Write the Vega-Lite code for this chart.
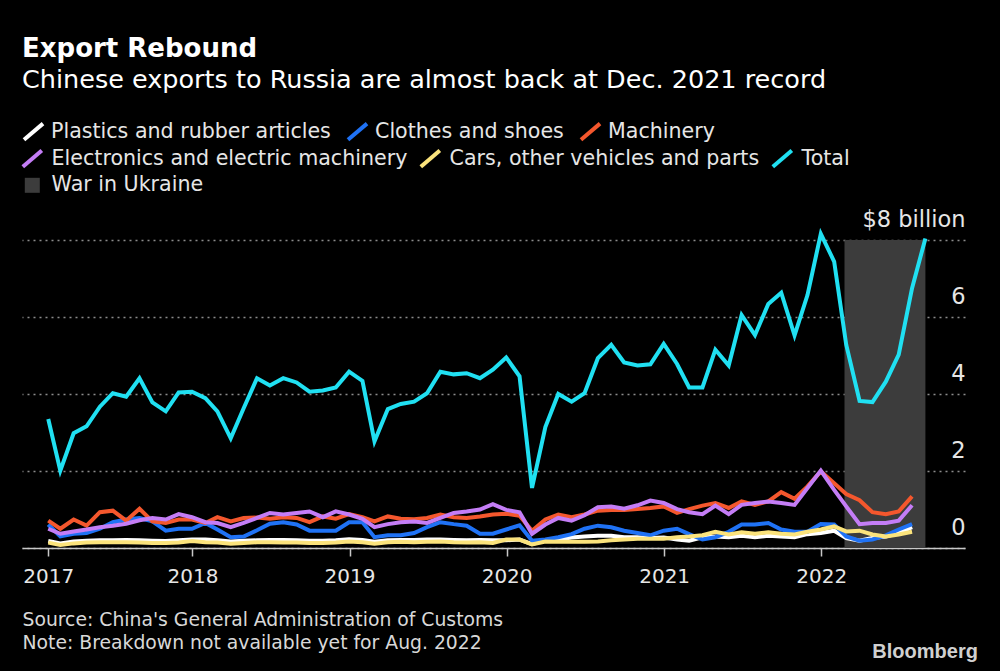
{
  "$schema": "https://vega.github.io/schema/vega-lite/v6.json",
  "width": 943,
  "height": 308,
  "autosize": {"type": "none"},
  "padding": {"left": 22, "top": 240, "right": 35, "bottom": 123},
  "background": "#000000",
  "title": {
    "text": "Export Rebound",
    "subtitle": "Chinese exports to Russia are almost back at Dec. 2021 record",
    "anchor": "start",
    "frame": "group",
    "font": "DejaVu Sans",
    "fontSize": 26,
    "fontWeight": "bold",
    "color": "#ffffff",
    "subtitleFont": "DejaVu Sans",
    "subtitleFontSize": 25.5,
    "subtitleColor": "#ffffff",
    "subtitlePadding": 6,
    "offset": 27
  },
  "config": {
    "view": {"stroke": null},
    "font": "DejaVu Sans",
    "legend": {
      "layout": {"top": {"direction": "vertical", "anchor": "start", "margin": -5}},
      "labelFont": "DejaVu Sans",
      "labelFontSize": 20.6,
      "labelColor": "#e6e6e6",
      "labelOffset": 9,
      "labelLimit": 600,
      "columnPadding": 6,
      "symbolType": "M-1,0.85L1,-0.85",
      "symbolSize": 361,
      "symbolStrokeWidth": 4,
      "offset": 29
    }
  },
  "datasets": {
    "exports": [
      {"date":"2017-01-31","plastics":0.18,"clothes":0.61,"machinery":0.71,"electronics":0.50,"cars":0.14,"total":3.35},
      {"date":"2017-02-28","plastics":0.12,"clothes":0.30,"machinery":0.50,"electronics":0.37,"cars":0.08,"total":2.01},
      {"date":"2017-03-31","plastics":0.17,"clothes":0.37,"machinery":0.74,"electronics":0.43,"cars":0.12,"total":2.98},
      {"date":"2017-04-30","plastics":0.19,"clothes":0.39,"machinery":0.58,"electronics":0.48,"cars":0.14,"total":3.16},
      {"date":"2017-05-31","plastics":0.20,"clothes":0.50,"machinery":0.93,"electronics":0.54,"cars":0.15,"total":3.67},
      {"date":"2017-06-30","plastics":0.20,"clothes":0.67,"machinery":0.97,"electronics":0.58,"cars":0.15,"total":4.02},
      {"date":"2017-07-31","plastics":0.21,"clothes":0.74,"machinery":0.71,"electronics":0.63,"cars":0.15,"total":3.93},
      {"date":"2017-08-31","plastics":0.20,"clothes":0.78,"machinery":1.02,"electronics":0.72,"cars":0.14,"total":4.41},
      {"date":"2017-09-30","plastics":0.19,"clothes":0.69,"machinery":0.69,"electronics":0.78,"cars":0.13,"total":3.78},
      {"date":"2017-10-31","plastics":0.18,"clothes":0.45,"machinery":0.65,"electronics":0.74,"cars":0.13,"total":3.55},
      {"date":"2017-11-30","plastics":0.20,"clothes":0.50,"machinery":0.74,"electronics":0.88,"cars":0.14,"total":4.04},
      {"date":"2017-12-31","plastics":0.22,"clothes":0.50,"machinery":0.74,"electronics":0.80,"cars":0.18,"total":4.06},
      {"date":"2018-01-31","plastics":0.22,"clothes":0.65,"machinery":0.65,"electronics":0.67,"cars":0.15,"total":3.89},
      {"date":"2018-02-28","plastics":0.20,"clothes":0.48,"machinery":0.80,"electronics":0.65,"cars":0.14,"total":3.55},
      {"date":"2018-03-31","plastics":0.17,"clothes":0.28,"machinery":0.69,"electronics":0.54,"cars":0.11,"total":2.85},
      {"date":"2018-04-30","plastics":0.19,"clothes":0.30,"machinery":0.78,"electronics":0.65,"cars":0.13,"total":3.63},
      {"date":"2018-05-31","plastics":0.20,"clothes":0.46,"machinery":0.79,"electronics":0.78,"cars":0.15,"total":4.41},
      {"date":"2018-06-30","plastics":0.21,"clothes":0.63,"machinery":0.76,"electronics":0.91,"cars":0.15,"total":4.22},
      {"date":"2018-07-31","plastics":0.21,"clothes":0.67,"machinery":0.80,"electronics":0.87,"cars":0.14,"total":4.41},
      {"date":"2018-08-31","plastics":0.20,"clothes":0.61,"machinery":0.78,"electronics":0.91,"cars":0.14,"total":4.30},
      {"date":"2018-09-30","plastics":0.19,"clothes":0.45,"machinery":0.67,"electronics":0.95,"cars":0.13,"total":4.06},
      {"date":"2018-10-31","plastics":0.19,"clothes":0.45,"machinery":0.82,"electronics":0.80,"cars":0.13,"total":4.09},
      {"date":"2018-11-30","plastics":0.20,"clothes":0.45,"machinery":0.76,"electronics":0.95,"cars":0.14,"total":4.17},
      {"date":"2018-12-31","plastics":0.23,"clothes":0.67,"machinery":0.88,"electronics":0.87,"cars":0.17,"total":4.58},
      {"date":"2019-01-31","plastics":0.21,"clothes":0.67,"machinery":0.80,"electronics":0.76,"cars":0.15,"total":4.34},
      {"date":"2019-02-28","plastics":0.16,"clothes":0.28,"machinery":0.69,"electronics":0.54,"cars":0.11,"total":2.77},
      {"date":"2019-03-31","plastics":0.20,"clothes":0.33,"machinery":0.82,"electronics":0.62,"cars":0.15,"total":3.61},
      {"date":"2019-04-30","plastics":0.21,"clothes":0.33,"machinery":0.76,"electronics":0.67,"cars":0.16,"total":3.74},
      {"date":"2019-05-31","plastics":0.21,"clothes":0.39,"machinery":0.75,"electronics":0.69,"cars":0.15,"total":3.80},
      {"date":"2019-06-30","plastics":0.22,"clothes":0.54,"machinery":0.78,"electronics":0.65,"cars":0.16,"total":4.02},
      {"date":"2019-07-31","plastics":0.22,"clothes":0.67,"machinery":0.87,"electronics":0.78,"cars":0.17,"total":4.58},
      {"date":"2019-08-31","plastics":0.21,"clothes":0.62,"machinery":0.80,"electronics":0.91,"cars":0.15,"total":4.51},
      {"date":"2019-09-30","plastics":0.20,"clothes":0.58,"machinery":0.78,"electronics":0.95,"cars":0.14,"total":4.54},
      {"date":"2019-10-31","plastics":0.21,"clothes":0.37,"machinery":0.82,"electronics":1.00,"cars":0.15,"total":4.41},
      {"date":"2019-11-30","plastics":0.20,"clothes":0.37,"machinery":0.87,"electronics":1.14,"cars":0.13,"total":4.63},
      {"date":"2019-12-31","plastics":0.20,"clothes":0.48,"machinery":0.89,"electronics":0.99,"cars":0.22,"total":4.95},
      {"date":"2020-01-31","plastics":0.22,"clothes":0.59,"machinery":0.84,"electronics":0.93,"cars":0.22,"total":4.46},
      {"date":"2020-02-29","plastics":0.10,"clothes":0.19,"machinery":0.45,"electronics":0.37,"cars":0.09,"total":1.56},
      {"date":"2020-03-31","plastics":0.20,"clothes":0.22,"machinery":0.74,"electronics":0.61,"cars":0.17,"total":3.14},
      {"date":"2020-04-30","plastics":0.22,"clothes":0.28,"machinery":0.87,"electronics":0.78,"cars":0.16,"total":4.00},
      {"date":"2020-05-31","plastics":0.27,"clothes":0.36,"machinery":0.80,"electronics":0.71,"cars":0.16,"total":3.80},
      {"date":"2020-06-30","plastics":0.30,"clothes":0.50,"machinery":0.87,"electronics":0.85,"cars":0.16,"total":4.02},
      {"date":"2020-07-31","plastics":0.32,"clothes":0.58,"machinery":0.97,"electronics":1.06,"cars":0.17,"total":4.93},
      {"date":"2020-08-31","plastics":0.32,"clothes":0.54,"machinery":0.99,"electronics":1.08,"cars":0.20,"total":5.28},
      {"date":"2020-09-30","plastics":0.28,"clothes":0.45,"machinery":0.99,"electronics":1.02,"cars":0.22,"total":4.82},
      {"date":"2020-10-31","plastics":0.28,"clothes":0.39,"machinery":1.01,"electronics":1.11,"cars":0.24,"total":4.74},
      {"date":"2020-11-30","plastics":0.26,"clothes":0.33,"machinery":1.04,"electronics":1.23,"cars":0.24,"total":4.77},
      {"date":"2020-12-31","plastics":0.27,"clothes":0.45,"machinery":1.08,"electronics":1.17,"cars":0.24,"total":5.30},
      {"date":"2021-01-31","plastics":0.22,"clothes":0.50,"machinery":0.91,"electronics":1.01,"cars":0.28,"total":4.78},
      {"date":"2021-02-28","plastics":0.19,"clothes":0.36,"machinery":1.01,"electronics":0.93,"cars":0.30,"total":4.17},
      {"date":"2021-03-31","plastics":0.28,"clothes":0.22,"machinery":1.10,"electronics":0.88,"cars":0.33,"total":4.17},
      {"date":"2021-04-30","plastics":0.30,"clothes":0.28,"machinery":1.17,"electronics":1.10,"cars":0.42,"total":5.15},
      {"date":"2021-05-31","plastics":0.28,"clothes":0.42,"machinery":1.04,"electronics":0.88,"cars":0.35,"total":4.74},
      {"date":"2021-06-30","plastics":0.32,"clothes":0.61,"machinery":1.21,"electronics":1.12,"cars":0.41,"total":6.05},
      {"date":"2021-07-31","plastics":0.28,"clothes":0.61,"machinery":1.12,"electronics":1.17,"cars":0.37,"total":5.53},
      {"date":"2021-08-31","plastics":0.32,"clothes":0.65,"machinery":1.21,"electronics":1.21,"cars":0.41,"total":6.34},
      {"date":"2021-09-30","plastics":0.30,"clothes":0.48,"machinery":1.45,"electronics":1.17,"cars":0.37,"total":6.63},
      {"date":"2021-10-31","plastics":0.28,"clothes":0.42,"machinery":1.28,"electronics":1.12,"cars":0.35,"total":5.52},
      {"date":"2021-11-30","plastics":0.36,"clothes":0.42,"machinery":1.60,"electronics":1.56,"cars":0.42,"total":6.57},
      {"date":"2021-12-31","plastics":0.39,"clothes":0.62,"machinery":1.99,"electronics":2.01,"cars":0.48,"total":8.16},
      {"date":"2022-01-31","plastics":0.45,"clothes":0.61,"machinery":1.68,"electronics":1.51,"cars":0.56,"total":7.44},
      {"date":"2022-02-28","plastics":0.26,"clothes":0.30,"machinery":1.40,"electronics":1.08,"cars":0.43,"total":5.28},
      {"date":"2022-03-31","plastics":0.19,"clothes":0.19,"machinery":1.24,"electronics":0.62,"cars":0.45,"total":3.82},
      {"date":"2022-04-30","plastics":0.26,"clothes":0.22,"machinery":0.93,"electronics":0.65,"cars":0.35,"total":3.79},
      {"date":"2022-05-31","plastics":0.30,"clothes":0.33,"machinery":0.88,"electronics":0.65,"cars":0.30,"total":4.32},
      {"date":"2022-06-30","plastics":0.39,"clothes":0.48,"machinery":0.95,"electronics":0.71,"cars":0.35,"total":5.02},
      {"date":"2022-07-31","plastics":0.54,"clothes":0.62,"machinery":1.34,"electronics":1.11,"cars":0.42,"total":6.75},
      {"date":"2022-08-31","total":8.04}
    ]
  },
  "layer": [
    {
      "data": {"values": [{"start": "2022-02-24", "end": "2022-08-31"}]},
      "mark": {"type": "rect", "color": "#3c3c3c", "opacity": 1},
      "encoding": {
        "x": {"field": "start", "type": "temporal"},
        "x2": {"field": "end"},
        "y": {"datum": 8, "type": "quantitative"},
        "y2": {"datum": 0}
      }
    },
    {
      "data": {"name": "exports"},
      "transform": [
        {"fold": ["plastics", "clothes", "machinery"], "as": ["series", "value"]}
      ],
      "mark": {"type": "line", "strokeWidth": 4, "strokeJoin": "miter"},
      "encoding": {
        "x": {
          "field": "date",
          "type": "temporal",
          "scale": {"type": "utc", "domain": [{"year": 2016, "month": 12, "date": 1, "utc": true}, {"year": 2022, "month": 12, "date": 1, "utc": true}]},
          "axis": {
            "values": [
              {"year": 2017, "month": 1, "date": 31, "utc": true},
              {"year": 2018, "month": 1, "date": 1, "utc": true},
              {"year": 2019, "month": 1, "date": 1, "utc": true},
              {"year": 2020, "month": 1, "date": 1, "utc": true},
              {"year": 2021, "month": 1, "date": 1, "utc": true},
              {"year": 2022, "month": 1, "date": 1, "utc": true}
            ],
            "labelExpr": "utcFormat(datum.value, '%Y')",
            "grid": false,
            "domainColor": "#c8c8c8",
            "domainWidth": 1.5,
            "tickColor": "#c8c8c8",
            "tickWidth": 1.5,
            "tickSize": 8,
            "labelFont": "DejaVu Sans",
            "labelFontSize": 20,
            "labelColor": "#e6e6e6",
            "labelPadding": 10,
            "labelFlush": false,
            "title": ["Source: China's General Administration of Customs", "Note: Breakdown not available yet for Aug. 2022"],
            "titleFont": "DejaVu Sans",
            "titleFontSize": 18.8,
            "titleFontWeight": "normal",
            "titleColor": "#d8d8d8",
            "titleAnchor": "start",
            "titleAlign": "left",
            "titleLineHeight": 23,
            "titlePadding": 24
          }
        },
        "y": {
          "field": "value",
          "type": "quantitative",
          "scale": {"domain": [0, 8], "nice": false, "zero": true},
          "axis": {
            "orient": "right",
            "values": [0, 2, 4, 6, 8],
            "grid": true,
            "gridColor": "#8c8c8c",
            "gridDash": [2, 4],
            "gridWidth": 1.3,
            "domain": false,
            "ticks": false,
            "labelAlign": "right",
            "labelBaseline": "alphabetic",
            "labelPadding": 0,
            "labelOffset": -14,
            "labelFont": "DejaVu Sans",
            "labelFontSize": 22.5,
            "labelColor": "#e6e6e6",
            "labelExpr": "datum.value == 8 ? '$8 billion' : datum.label",
            "title": null
          }
        },
        "stroke": {
          "field": "series",
          "type": "nominal",
          "scale": {
            "domain": ["plastics", "clothes", "machinery"],
            "range": ["#ffffff", "#1f72f5", "#f4572d"]
          },
          "legend": {
            "orient": "top",
            "title": null,
            "labelOffset": 6,
            "columnPadding": 9,
            "labelExpr": "{'plastics':'Plastics and rubber articles','clothes':'Clothes and shoes','machinery':'Machinery'}[datum.value]"
          }
        }
      }
    },
    {
      "data": {"name": "exports"},
      "transform": [
        {"fold": ["electronics", "cars", "total"], "as": ["series", "value"]}
      ],
      "mark": {"type": "line", "strokeWidth": 4, "strokeJoin": "miter"},
      "encoding": {
        "x": {"field": "date", "type": "temporal"},
        "y": {"field": "value", "type": "quantitative"},
        "color": {
          "field": "series",
          "type": "nominal",
          "scale": {
            "domain": ["electronics", "cars", "total", "war"],
            "range": ["#c47df6", "#fbe37c", "#20e0f2", "#3c3c3c"]
          },
          "legend": {
            "orient": "top",
            "title": null,
            "columns": 3,
            "rowPadding": -1,
            "columnPadding": 4,
            "labelExpr": "{'electronics':'Electronics and electric machinery','cars':'Cars, other vehicles and parts','total':'Total','war':'War in Ukraine'}[datum.value]",
            "encode": {
              "symbols": {
                "update": {
                  "shape": {"signal": "datum.value === 'war' ? 'square' : 'M-1,0.85L1,-0.85'"},
                  "size": {"signal": "datum.value === 'war' ? 225 : 361"},
                  "strokeWidth": {"signal": "datum.value === 'war' ? 0 : 4"},
                  "fill": {"signal": "datum.value === 'war' ? '#3c3c3c' : 'transparent'"},
                  "stroke": {"signal": "datum.value === 'war' ? '#3c3c3c' : scale('color', datum.value)"},
                  "opacity": {"value": 1}
                }
              }
            }
          }
        }
      }
    },
    {
      "data": {"values": [{"label": "Bloomberg"}]},
      "mark": {"type": "text", "align": "right", "baseline": "alphabetic", "font": "Liberation Sans", "fontWeight": "bold", "fontSize": 20, "color": "#d0d0d0"},
      "encoding": {
        "x": {"datum": {"year": 2022, "month": 12, "date": 31, "utc": true}, "type": "temporal"},
        "y": {"datum": -2.85, "type": "quantitative"},
        "text": {"field": "label"}
      }
    }
  ]
}
